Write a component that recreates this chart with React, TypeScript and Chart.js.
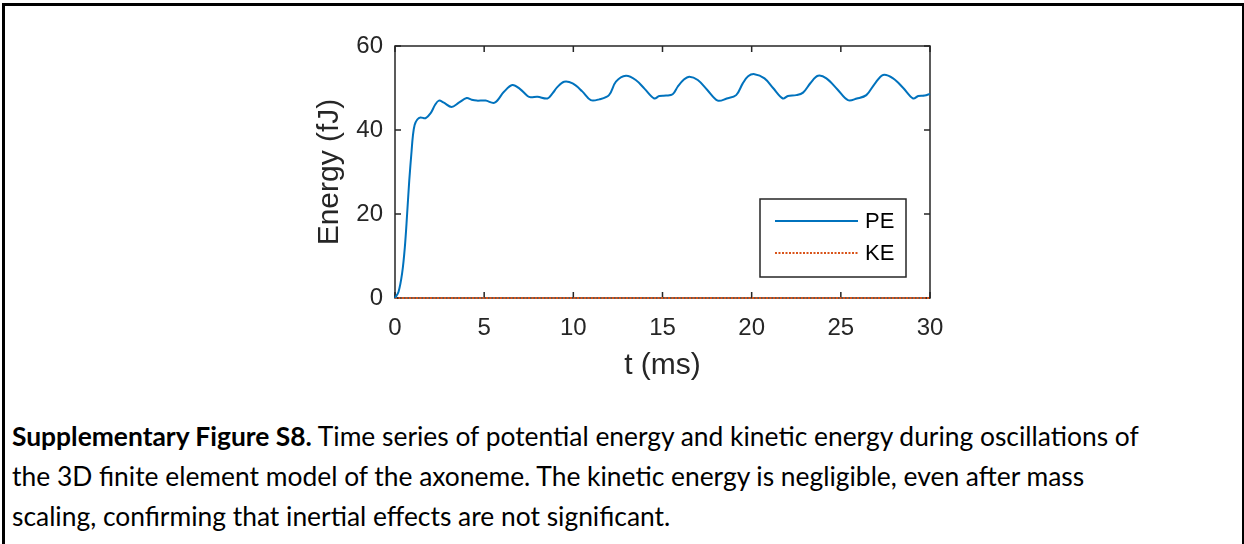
import React, { useEffect, useRef } from "react";
import { Chart, registerables } from "chart.js";

Chart.register(...registerables);

const timeMs = [0, 0.2, 0.4, 0.55, 0.68, 0.8, 0.93, 1.0, 1.1, 1.25, 1.43, 1.71, 2.0, 2.25, 2.46, 2.74, 3.17, 3.58, 4.02, 4.3, 4.58, 5.08, 5.59, 6.11, 6.58, 7.0, 7.43, 7.61, 7.99, 8.55, 8.83, 9.1, 9.48, 9.96, 10.5, 10.98, 11.45, 12.0, 12.39, 12.95, 13.5, 14.0, 14.54, 14.82, 15.2, 15.57, 15.85, 16.2, 16.51, 16.98, 17.5, 18.1, 18.6, 19.13, 19.5, 19.8, 20.16, 20.72, 21.2, 21.75, 22.03, 22.5, 22.88, 23.3, 23.72, 24.19, 24.8, 25.4, 25.9, 26.43, 26.9, 27.37, 27.93, 28.5, 29.06, 29.34, 29.7, 30];
const potentialEnergy = [0, 1.5, 5.9, 12, 20, 28, 35, 38.5, 41.2, 42.5, 43.0, 42.8, 44.0, 46.0, 47.0, 46.5, 45.5, 46.5, 47.6, 47.2, 47.0, 47.0, 46.5, 49.1, 50.7, 49.8, 48.1, 47.8, 47.9, 47.5, 48.7, 50.2, 51.5, 51.1, 49.2, 47.1, 47.3, 48.3, 51.5, 52.9, 51.9, 49.8, 47.5, 48.1, 48.2, 48.5, 50.3, 52.0, 52.7, 51.9, 49.6, 47.0, 47.5, 48.3, 51.1, 52.8, 53.3, 52.3, 50.0, 47.5, 48.1, 48.3, 48.9, 51.2, 52.9, 52.3, 49.7, 47.1, 47.5, 48.3, 51.0, 53.1, 52.3, 50.0, 47.5, 48.1, 48.2, 48.6];
const kineticEnergy = timeMs.map(() => 0);

const seriesLabels = ["PE", "KE"];
const xTicks = [0, 5, 10, 15, 20, 25, 30];
const yTicks = [0, 20, 40, 60];
const xTitle = "t (ms)";
const yTitle = "Energy (fJ)";

const PE_COLOR = "#0072BD";
const KE_COLOR = "#D95319";
const AXIS_COLOR = "#262626";
const FONT = "'Liberation Sans', Arial, Helvetica, sans-serif";

const boxPlugin = {
  id: "matlabBox",
  beforeDatasetsDraw(chart: any) {
    const { ctx, chartArea: a, scales } = chart;
    ctx.save();
    ctx.strokeStyle = AXIS_COLOR;
    ctx.lineWidth = 1.5;
    ctx.strokeRect(a.left, a.top, a.right - a.left, a.bottom - a.top);
    const tl = 6;
    ctx.beginPath();
    for (const v of xTicks) {
      const px = scales.x.getPixelForValue(v);
      ctx.moveTo(px, a.bottom);
      ctx.lineTo(px, a.bottom - tl);
      ctx.moveTo(px, a.top);
      ctx.lineTo(px, a.top + tl);
    }
    for (const v of yTicks) {
      const py = scales.y.getPixelForValue(v);
      ctx.moveTo(a.left, py);
      ctx.lineTo(a.left + tl, py);
      ctx.moveTo(a.right, py);
      ctx.lineTo(a.right - tl, py);
    }
    ctx.stroke();
    ctx.restore();
  },
  afterDatasetsDraw(chart: any) {
    const { ctx, chartArea: a } = chart;
    ctx.save();
    const bx = a.right - 170;
    const by = a.top + 153;
    const bw = 146;
    const bh = 78;
    ctx.fillStyle = "#ffffff";
    ctx.fillRect(bx, by, bw, bh);
    ctx.strokeStyle = AXIS_COLOR;
    ctx.lineWidth = 1.5;
    ctx.strokeRect(bx, by, bw, bh);
    const rows = [
      { label: seriesLabels[0], color: PE_COLOR, dash: [] as number[], y: by + 22 },
      { label: seriesLabels[1], color: KE_COLOR, dash: [2, 1.5], y: by + 54 },
    ];
    ctx.font = `22px ${FONT}`;
    ctx.textBaseline = "middle";
    ctx.textAlign = "left";
    for (const r of rows) {
      ctx.beginPath();
      ctx.setLineDash(r.dash);
      ctx.strokeStyle = r.color;
      ctx.lineWidth = 2;
      ctx.moveTo(bx + 15, r.y);
      ctx.lineTo(bx + 98, r.y);
      ctx.stroke();
      ctx.setLineDash([]);
      ctx.fillStyle = "#000000";
      ctx.fillText(r.label, bx + 105, r.y + 1);
    }
    ctx.restore();
  },
};

function EnergyChart() {
  const ref = useRef<HTMLCanvasElement>(null);
  useEffect(() => {
    if (!ref.current) return;
    const chart = new Chart(ref.current, {
      type: "line",
      data: {
        datasets: [
          {
            label: seriesLabels[0],
            data: timeMs.map((t, i) => ({ x: t, y: potentialEnergy[i] })),
            borderColor: PE_COLOR,
            borderWidth: 2,
            pointRadius: 0,
            tension: 0.35,
            clip: false as any,
          },
          {
            label: seriesLabels[1],
            data: timeMs.map((t, i) => ({ x: t, y: kineticEnergy[i] })),
            borderColor: KE_COLOR,
            borderWidth: 2,
            borderDash: [2, 1.5],
            pointRadius: 0,
            tension: 0,
            clip: false as any,
          },
        ],
      },
      options: {
        animation: false,
        responsive: false,
        maintainAspectRatio: false,
        layout: { padding: { left: 300, right: 314, top: 46, bottom: 16 } },
        plugins: { legend: { display: false }, tooltip: { enabled: false } },
        scales: {
          x: {
            type: "linear",
            min: 0,
            max: 30,
            border: { display: false },
            grid: { display: false, drawTicks: false },
            afterFit: (s: any) => { s.height = 86; },
            afterBuildTicks: (s: any) => { s.ticks = xTicks.map((v) => ({ value: v })); },
            ticks: {
              color: AXIS_COLOR,
              padding: 16,
              maxRotation: 0,
              autoSkip: false,
              font: { family: FONT, size: 24 },
            },
            title: {
              display: true,
              text: xTitle,
              color: AXIS_COLOR,
              padding: { top: 0, bottom: 0 },
              font: { family: FONT, size: 30 },
            },
          },
          y: {
            type: "linear",
            min: 0,
            max: 60,
            border: { display: false },
            grid: { display: false, drawTicks: false },
            afterFit: (s: any) => { s.width = 95; },
            afterBuildTicks: (s: any) => { s.ticks = yTicks.map((v) => ({ value: v })); },
            ticks: {
              color: AXIS_COLOR,
              padding: 12,
              font: { family: FONT, size: 24 },
            },
            title: {
              display: true,
              text: yTitle,
              color: AXIS_COLOR,
              padding: { top: 12, bottom: 0 },
              font: { family: FONT, size: 30 },
            },
          },
        },
      },
      plugins: [boxPlugin],
    });
    return () => chart.destroy();
  }, []);
  return (
    <canvas
      ref={ref}
      width={1244}
      height={400}
      style={{ position: "absolute", left: 0, top: 0, width: 1244, height: 400 }}
    />
  );
}

export default function App() {
  const captionStyle: React.CSSProperties = {
    position: "absolute",
    left: 12,
    top: 416,
    fontFamily: "Lato, 'Open Sans', sans-serif",
    fontSize: 26.4,
    lineHeight: "40px",
    color: "#000",
    whiteSpace: "nowrap",
  };
  return (
    <div style={{ position: "fixed", left: 0, top: 0, width: 1244, height: 544, background: "#fff", overflow: "hidden" }}>
      <div
        style={{
          position: "absolute",
          left: 2,
          top: 3,
          width: 1237,
          height: 600,
          borderTop: "3px solid #000",
          borderLeft: "3px solid #000",
          borderRight: "3px solid #000",
        }}
      />
      <EnergyChart />
      <div style={captionStyle}>
        <div>
          <b>Supplementary Figure S8.</b> Time series of potential energy and kinetic energy during oscillations of
        </div>
        <div>the 3D finite element model of the axoneme. The kinetic energy is negligible, even after mass</div>
        <div>scaling, confirming that inertial effects are not significant.</div>
      </div>
    </div>
  );
}
